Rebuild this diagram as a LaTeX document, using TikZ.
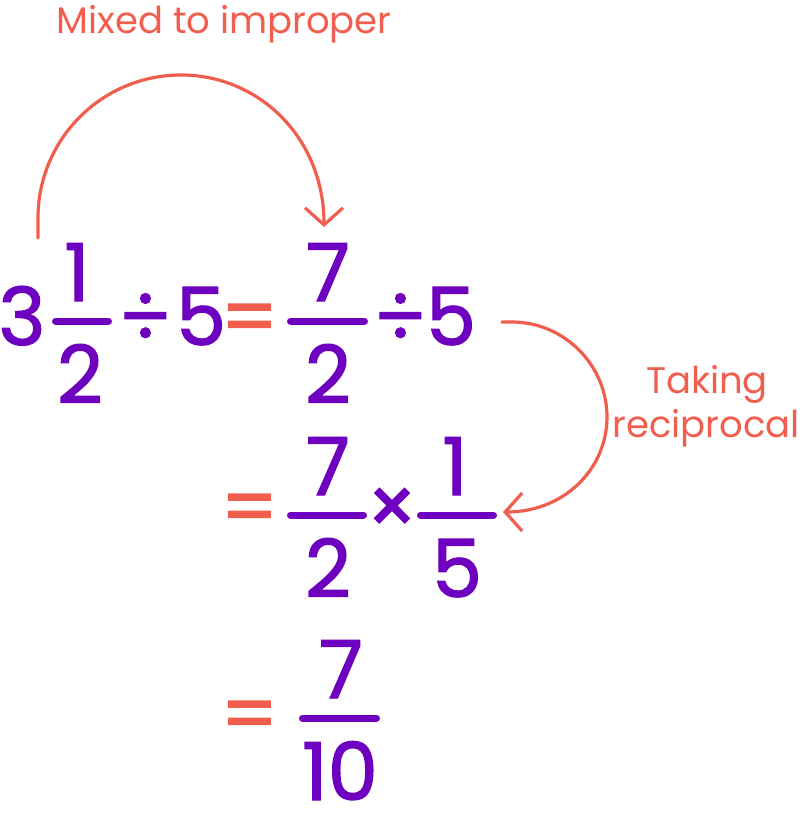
\documentclass[tikz,border=0pt]{standalone}
\usepackage{fontspec}
\setmainfont{Poppins}
\usetikzlibrary{arrows.meta, positioning}
\definecolor{numpurple}{HTML}{6E00BF}
\definecolor{notered}{HTML}{F25E4D}
\newfontfamily\numfont{Poppins}[FakeBold=1.6]
\tikzset{
digit/.style={text=numpurple, inner sep=0pt, anchor=base, font=\numfont\fontsize{80}{80}\selectfont}, % big purple numbers
eqsign/.style={digit, text=notered}, % the red equals signs
fracbar/.style={draw=numpurple, line width=7pt, line cap=round},
note/.style={text=notered, inner sep=0pt, anchor=base, font=\fontsize{37}{44}\selectfont},
curvearrow/.style={draw=notered, line width=3.2pt, line cap=round, -{Straight Barb[length=17pt, width=38pt, line width=3.2pt]}},
}
\begin{document}
\begin{tikzpicture}[x=1pt, y=-1pt]
\useasboundingbox (0,0) rectangle (802,825);

% first line
\node[digit] (three) at (22,345) {3};
\node[digit] (oneA) at (77,301) {1};
\node[digit] (twoA) at (80,403) {2};
\draw[fracbar] (55.5,321) -- (108.5,321);
\node[digit] (divA) at (145,345) {÷};
\node[digit] (fiveA) at (201,345) {5};
\node[eqsign] (eqA) at (249.5,345) {=};
\draw[fracbar] (290.5,321) -- (364.5,321);
\node[digit] (sevenA) at (328,301) {7};
\node[digit] (twoB) at (328,403) {2};
\node[digit] (divB) at (400,345) {÷};
\node[digit] (fiveB) at (451,345) {5};

% second line
\node[eqsign] (eqB) at (249.5,535) {=};
\draw[fracbar] (290.5,515) -- (363.5,515);
\node[digit] (sevenB) at (328,495) {7};
\node[digit] (twoC) at (328,597) {2};
\node[digit] (times) at (392,535) {×};
\draw[fracbar] (420.5,515) -- (493.5,515);
\node[digit] (oneB) at (455,495) {1};
\node[digit] (fiveC) at (457,597) {5};

% third line
\node[eqsign] (eqC) at (249.5,742) {=};
\draw[fracbar] (302.5,718) -- (376.5,718);
\node[digit] (sevenC) at (341,698) {7};
\node[digit] (ten) at (340,800) {10};

% notes and arrows
\node[note] (mixed) at (224,33) {Mixed to improper};
\node[note] (taking) at (707,393) {Taking};
\node[note] (recip) at (706,437) {reciprocal};

\coordinate (mixstart) at (38,238);
\coordinate (mixend) at (324,227);
\draw[curvearrow] (mixstart) -- (38,218) .. controls (38,139) and (102,75) .. (181,75)
      .. controls (260,75) and (324,139) .. (mixend);

\coordinate (recstart) at (502,322);
\coordinate (recend) at (503,512);
\draw[curvearrow] (recstart) -- (512,322) .. controls (564,322) and (607,365) .. (607,417)
      .. controls (607,469) and (564,512) .. (recend);
\end{tikzpicture}
\end{document}
